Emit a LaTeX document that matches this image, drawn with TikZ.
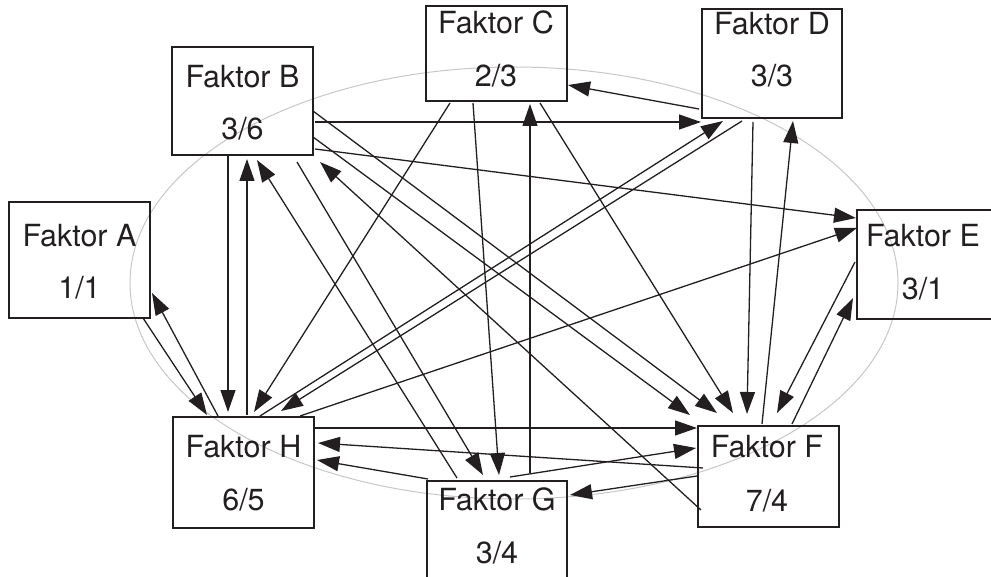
\documentclass[tikz,border=0pt]{standalone}
\usepackage{fontspec}
\setmainfont{TeX Gyre Heros}
\usetikzlibrary{arrows.meta,calc}
\definecolor{ink}{RGB}{35,31,32}
\begin{document}
\begin{tikzpicture}[x=1pt,y=-1pt,
  box/.style={draw=ink, line width=2.4pt, outer sep=0pt, inner sep=0pt},
  txt/.style={anchor=base, inner sep=0pt, outer sep=0pt, text=ink, font=\fontsize{30.5}{36}\selectfont},
  conn/.style={draw=ink, line width=1.3pt, -{Triangle[length=22pt,width=15pt]}}]
\useasboundingbox (0,0) rectangle (991,577);
\draw[black!22, line width=1pt] (514,283) ellipse [x radius=384, y radius=216];
% boxes
\node[box, minimum width=141pt, minimum height=116pt] (A) at (79.5,260) {};
\node[box, minimum width=141pt, minimum height=108pt] (B) at (242.5,101) {};
\node[box, minimum width=141pt, minimum height=95pt] (C) at (496.5,53.5) {};
\node[box, minimum width=140pt, minimum height=109pt] (D) at (772,63.5) {};
\node[box, minimum width=143pt, minimum height=109pt] (E) at (928.5,264.5) {};
\node[box, minimum width=141pt, minimum height=101pt] (F) at (768.5,476.5) {};
\node[box, minimum width=140pt, minimum height=118pt] (G) at (497,540) {};
\node[box, minimum width=141pt, minimum height=111pt] (H) at (243.5,472.5) {};
% texts
\node[txt] (A1) at (79.5,247) {Faktor A};
\node[txt] (A2) at (79.5,299) {1/1};
\node[txt] (B1) at (242.5,88) {Faktor B};
\node[txt] (B2) at (242.5,140) {3/6};
\node[txt] (C1) at (496,34) {Faktor C};
\node[txt] (C2) at (496,87) {2/3};
\node[txt] (D1) at (772,35) {Faktor D};
\node[txt] (D2) at (772,87) {3/3};
\node[txt] (E1) at (923,247) {Faktor E};
\node[txt] (E2) at (923,300) {3/1};
\node[txt] (F1) at (767,457) {Faktor F};
\node[txt] (F2) at (767,511) {7/4};
\node[txt] (G1) at (497,510) {Faktor G};
\node[txt] (G2) at (497,563) {3/4};
\node[txt] (H1) at (243.5,457) {Faktor H};
\node[txt] (H2) at (243.5,510) {6/5};
% connectors
\draw[conn] ($(A.north west)+(134,116)$) -- ($(H.north west)+(34,-2)$);
\draw[conn] ($(H.north west)+(45,-1)$) -- ($(A.north west)+(143,91)$);
\draw[conn] ($(B.north west)+(56,109)$) -- ($(H.north west)+(55,-5)$);
\draw[conn] ($(H.north west)+(74,-2)$) -- ($(B.north west)+(75,112)$);
\draw[conn] ($(C.north west)+(24,97)$) -- ($(H.north west)+(81,-5)$);
\draw[conn] ($(H.north west)+(87,-1)$) -- ($(D.north west)+(21,112)$);
\draw[conn] ($(D.north west)+(40,112)$) -- ($(H.north west)+(108,-6)$);
\draw[conn] ($(H.north west)+(127,-1)$) -- ($(E.north west)+(0,18)$);
\draw[conn] ($(H.north west)+(142,11)$) -- ($(F.north west)+(-1,2)$);
\draw[conn] ($(F.north west)+(5,42)$) -- ($(H.north west)+(145,26)$);
\draw[conn] ($(G.north west)+(1,-2)$) -- ($(H.north west)+(144,43)$);
\draw[conn] ($(G.north west)+(83,-4)$) -- ($(F.north west)+(-2,22)$);
\draw[conn] ($(F.north west)+(-1,50)$) -- ($(G.north west)+(143,14)$);
\draw[conn] ($(C.north west)+(47,97)$) -- ($(G.north west)+(72,-6)$);
\draw[conn] ($(G.north west)+(103,-8)$) -- ($(C.north west)+(104,98)$);
\draw[conn] ($(B.north west)+(125,115)$) -- ($(G.north west)+(56,-6)$);
\draw[conn] ($(G.north west)+(30,-3)$) -- ($(B.north west)+(85,113)$);
\draw[conn] ($(F.north west)+(3,84)$) -- ($(B.north west)+(148,115)$);
\draw[conn] ($(B.north west)+(143,75)$) -- ($(D.north west)+(-1,113)$);
\draw[conn] ($(B.north west)+(143,102)$) -- ($(E.north west)+(-1,8)$);
\draw[conn] ($(B.north west)+(141,64)$) -- ($(F.north west)+(19,-13)$);
\draw[conn] ($(B.north west)+(141,90)$) -- ($(F.north west)+(-8,-11)$);
\draw[conn] ($(C.north west)+(114,97)$) -- ($(F.north west)+(35,-13)$);
\draw[conn] ($(D.north west)+(51,113)$) -- ($(F.north west)+(49,-12)$);
\draw[conn] ($(F.north west)+(64,-2)$) -- ($(D.north west)+(91,112)$);
\draw[conn] ($(E.north west)+(-2,52)$) -- ($(F.north west)+(79,-13)$);
\draw[conn] ($(F.north west)+(94,-2)$) -- ($(E.north west)+(-4,88)$);
\draw[conn] ($(D.north west)+(-3,100)$) -- ($(C.north west)+(142,79)$);
\end{tikzpicture}
\end{document}
